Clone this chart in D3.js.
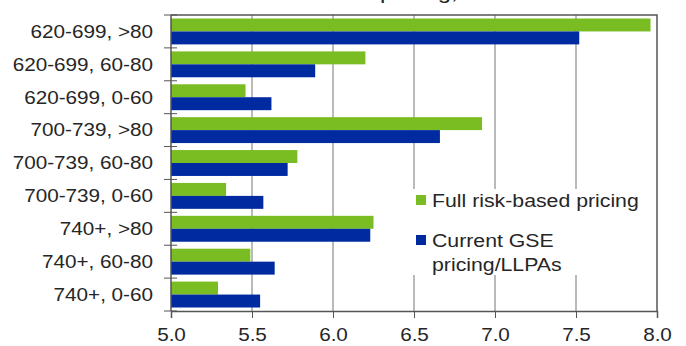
<!DOCTYPE html>
<html lang="en">
<head>
<meta charset="utf-8">
<title>Pricing by FICO and LTV</title>
<script src="https://cdn.jsdelivr.net/npm/d3@7"></script>
<style>
  body { margin: 0; background: #fff; }
  svg { display: block; font-family: "Liberation Sans", Arial, sans-serif; }
  text { fill: #262626; }
</style>
</head>
<body>
<script>
// data
const categories = ["620-699, >80", "620-699, 60-80", "620-699, 0-60",
                    "700-739, >80", "700-739, 60-80", "700-739, 0-60",
                    "740+, >80", "740+, 60-80", "740+, 0-60"];
const fullRiskPricing = [7.96, 6.20, 5.46, 6.92, 5.78, 5.34, 6.25, 5.49, 5.29];
const currentGsePricing = [7.52, 5.89, 5.62, 6.66, 5.72, 5.57, 6.23, 5.64, 5.55];
const seriesNames = ["Full risk-based pricing", "Current GSE pricing/LLPAs"];
const xTicks = [5.0, 5.5, 6.0, 6.5, 7.0, 7.5, 8.0];

const width = 686, height = 346;
const plotLeft = 171, plotRight = 657, plotTop = 15, plotBottom = 311;
const sx = 1.15; // the original text is a little stretched sideways
const colors = ["#7abd22", "#002aa0"];

const rows = categories.map((c, i) => ({cat: c, values: [fullRiskPricing[i], currentGsePricing[i]]}));

const svg = d3.select("body").append("svg")
    .attr("width", width)
    .attr("height", height);

const x = d3.scaleLinear().domain([5, 8]).range([plotLeft, plotRight]);
const y0 = d3.scaleBand().domain(categories).range([plotTop, plotBottom]);
const y1 = d3.scaleBand().domain(d3.range(2)).range([0, y0.bandwidth()]).paddingOuter(0.27);

// title, only its lowest pixels show at the top edge
svg.append("text")
    .attr("transform", "translate(380,-1.5) scale(" + sx + ",1)")
    .style("font-size", "21px")
    .text("pricing,");

// grid lines
svg.append("g").selectAll("line")
    .data(xTicks.slice(1, -1))
    .join("line")
    .attr("x1", d => x(d)).attr("x2", d => x(d))
    .attr("y1", plotTop).attr("y2", plotBottom)
    .attr("stroke", "#a3a3a3")
    .attr("stroke-width", 1.5);

// bars
const groups = svg.append("g").selectAll("g")
    .data(rows)
    .join("g")
    .attr("transform", d => "translate(0," + y0(d.cat) + ")");

groups.selectAll("rect")
    .data(d => d.values)
    .join("rect")
    .attr("x", x(5))
    .attr("y", (d, i) => y1(i))
    .attr("width", d => x(d) - x(5))
    .attr("height", y1.bandwidth())
    .attr("fill", (d, i) => colors[i]);

// frame top and right
svg.append("path")
    .attr("d", "M" + plotLeft + "," + plotTop + "H" + plotRight + "V" + plotBottom)
    .attr("fill", "none")
    .attr("stroke", "#555")
    .attr("stroke-width", 1.5);

// bottom axis
const bottomAxis = svg.append("g")
    .attr("transform", "translate(0," + plotBottom + ")")
    .call(d3.axisBottom(x).tickValues(xTicks).tickFormat(d3.format(".1f")).tickSizeOuter(0).tickSize(7).tickPadding(10));
bottomAxis.select(".domain").attr("stroke", "#555").attr("stroke-width", 1.5);
bottomAxis.selectAll(".tick line").attr("stroke", "#555");
bottomAxis.selectAll("text")
    .attr("transform", "scale(" + sx + ",1)")
    .style("font-size", "18px")
    .style("fill", "#262626");

// left axis, ticks sit between the categories
const boundaries = d3.range(categories.length + 1).map(i => plotTop + i * y0.step());
const leftAxis = svg.append("g").attr("transform", "translate(" + plotLeft + ",0)");
leftAxis.append("line")
    .attr("y1", plotTop).attr("y2", plotBottom)
    .attr("stroke", "#555").attr("stroke-width", 1.5);
leftAxis.selectAll(".tk")
    .data(boundaries)
    .join("line")
    .attr("class", "tk")
    .attr("x1", -7).attr("x2", 6)
    .attr("y1", d => d).attr("y2", d => d)
    .attr("stroke", "#555");
leftAxis.selectAll(".lab")
    .data(categories)
    .join("text")
    .attr("class", "lab")
    .attr("transform", d => "translate(-18," + (y0(d) + y0.bandwidth() / 2) + ") scale(" + sx + ",1)")
    .attr("text-anchor", "end")
    .attr("dy", "0.35em")
    .style("font-size", "18px")
    .text(d => d);

// legend
const legend = svg.append("g").attr("transform", "translate(410,189)");
legend.append("rect")
    .attr("width", 236).attr("height", 86)
    .attr("fill", "#fff");
const items = [
    {lines: [seriesNames[0]], y: 0},
    {lines: ["Current GSE", "pricing/LLPAs"], y: 40}
];
items.forEach((it, i) => {
    legend.append("rect")
        .attr("x", 6).attr("y", it.y + 6)
        .attr("width", 10).attr("height", 10)
        .attr("fill", colors[i]);
    it.lines.forEach((t, k) => {
        legend.append("text")
            .attr("transform", "translate(22," + (it.y + 18 + k * 24) + ") scale(" + sx + ",1)")
            .style("font-size", "18.5px")
            .text(t);
    });
});
</script>
</body>
</html>
